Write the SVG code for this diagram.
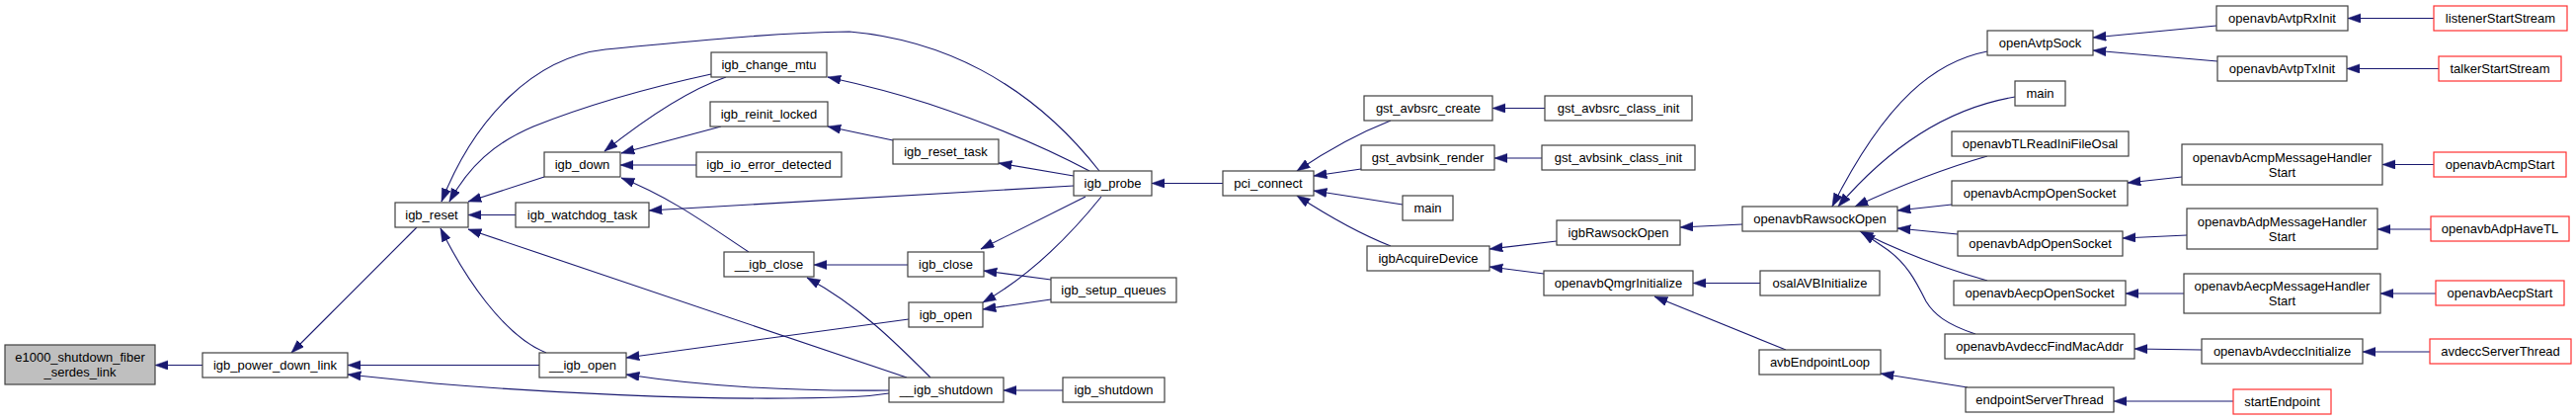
<svg xmlns="http://www.w3.org/2000/svg" width="2608" height="425" viewBox="0 0 2608 425">
<style>
.n rect{fill:#fff;stroke:#404040;stroke-width:1.2}
.n.g rect{fill:#bfbfbf}
.n.r rect{stroke:#ff3030}
.n text{font-family:"Liberation Sans",Helvetica,Arial,sans-serif;font-size:13px;fill:#000;text-anchor:middle}
#edges path{fill:none;stroke:#191970;stroke-width:1.1;marker-end:url(#ah)}
</style>
<defs>
<marker id="ah" markerUnits="userSpaceOnUse" markerWidth="14" markerHeight="10" refX="13.3" refY="4.7" orient="auto">
<path d="M0,0 L13.3,4.7 L0,9.4 z" fill="#191970" stroke="#191970" stroke-width="0.5"/>
</marker>
</defs>
<rect width="2608" height="425" fill="#fff"/>
<g id="edges">
<path d="M205,369.5 L157,369.5"/>
<path d="M422,230 L295,357"/>
<path d="M546,369.5 L352,369.5"/>
<path d="M900,398 C880,401 870,402 800,403 C700,404 560,398 440,388 L352,379"/>
<path d="M900,395 C820,396 720,392 634,379"/>
<path d="M1113,173 C1040,80 950,40 860,32 C780,33 700,42 613,50 C540,58 480,120 447,204"/>
<path d="M1103,173 C1060,150 1000,125 940,105 C900,92 870,85 838,78"/>
<path d="M720,75 C660,88 600,104 540,128 C500,145 475,168 455,204"/>
<path d="M735,78 C700,90 660,115 612,153"/>
<path d="M730,128 L629,155"/>
<path d="M705,167 L628,167"/>
<path d="M758,255 C720,230 680,200 629,180"/>
<path d="M551,179 L474,204"/>
<path d="M522,217.5 L474,217.5"/>
<path d="M918,382 L474,232"/>
<path d="M553,357 C510,340 470,280 446,231"/>
<path d="M904,142 L838,128"/>
<path d="M1087,178 L1011,165"/>
<path d="M1087,188 L657,213"/>
<path d="M919,268 L824,268"/>
<path d="M942,382 C905,345 870,310 817,281"/>
<path d="M1099,199 L993,252"/>
<path d="M1064,283 L996,274"/>
<path d="M1115,199 C1090,230 1050,275 995,306"/>
<path d="M1064,303 L995,313"/>
<path d="M920,323 L634,362"/>
<path d="M1076,395 L1016,395"/>
<path d="M1238,185.5 L1166,185.5"/>
<path d="M1408,122 C1380,133 1350,148 1313,173"/>
<path d="M1378,171 L1330,178"/>
<path d="M1420,207 L1330,193"/>
<path d="M1408,249 C1380,238 1350,222 1313,198"/>
<path d="M1564,109.5 L1511,109.5"/>
<path d="M1561,160 L1513,160"/>
<path d="M1576,244 L1508,252"/>
<path d="M1563,277 L1508,270"/>
<path d="M1764,227 L1701,230"/>
<path d="M1782,286.5 L1714,286.5"/>
<path d="M1808,354 L1675,300"/>
<path d="M1992,392 L1904,378"/>
<path d="M2261,406 L2140,406"/>
<path d="M2012,52 C1960,62 1910,100 1855,209"/>
<path d="M2040,98 C1980,108 1920,140 1861,209"/>
<path d="M2012,158 C1970,170 1930,185 1878,209"/>
<path d="M1976,207 L1921,213"/>
<path d="M1982,237 L1921,231"/>
<path d="M2012,284 C1970,272 1930,258 1883,234"/>
<path d="M2000,338 C1970,328 1958,318 1950,305 C1940,285 1930,265 1907,250 L1885,235"/>
<path d="M2244,26 L2119,38"/>
<path d="M2245,62 L2119,51"/>
<path d="M2464,18.5 L2377,18.5"/>
<path d="M2469,69.5 L2376,69.5"/>
<path d="M2209,179 L2154,185"/>
<path d="M2214,238 L2149,241"/>
<path d="M2211,297 L2152,297"/>
<path d="M2229,354 L2161,353"/>
<path d="M2464,166.5 L2412,166.5"/>
<path d="M2461,232 L2407,232"/>
<path d="M2466,297 L2410,297"/>
<path d="M2460,356 L2392,356"/>
</g>
<g id="n_e1000" class="n g"><rect x="5" y="349" width="152" height="40"/><text x="81" y="366">e1000_shutdown_fiber</text><text x="81" y="381">_serdes_link</text></g>
<g id="n_igb_power_down_link" class="n"><rect x="205" y="357" width="147" height="25"/><text x="278.5" y="374">igb_power_down_link</text></g>
<g id="n_igb_reset" class="n"><rect x="400" y="205" width="74" height="25"/><text x="437" y="222">igb_reset</text></g>
<g id="n_igb_change_mtu" class="n"><rect x="720" y="53" width="117" height="25"/><text x="778.5" y="70">igb_change_mtu</text></g>
<g id="n_igb_reinit_locked" class="n"><rect x="719" y="103" width="119" height="25"/><text x="778.5" y="120">igb_reinit_locked</text></g>
<g id="n_igb_down" class="n"><rect x="551" y="154" width="77" height="25"/><text x="589.5" y="171">igb_down</text></g>
<g id="n_igb_io_error_detected" class="n"><rect x="705" y="154" width="147" height="25"/><text x="778.5" y="171">igb_io_error_detected</text></g>
<g id="n_igb_watchdog_task" class="n"><rect x="522" y="205" width="135" height="25"/><text x="589.5" y="222">igb_watchdog_task</text></g>
<g id="n___igb_close" class="n"><rect x="733" y="255" width="91" height="25"/><text x="778.5" y="272">__igb_close</text></g>
<g id="n___igb_open" class="n"><rect x="546" y="357" width="88" height="25"/><text x="590" y="374">__igb_open</text></g>
<g id="n_igb_reset_task" class="n"><rect x="904" y="141" width="107" height="25"/><text x="957.5" y="158">igb_reset_task</text></g>
<g id="n_igb_probe" class="n"><rect x="1087" y="173" width="79" height="25"/><text x="1126.5" y="190">igb_probe</text></g>
<g id="n_pci_connect" class="n"><rect x="1238" y="173" width="92" height="25"/><text x="1284" y="190">pci_connect</text></g>
<g id="n_igb_close" class="n"><rect x="919" y="255" width="77" height="25"/><text x="957.5" y="272">igb_close</text></g>
<g id="n_igb_setup_queues" class="n"><rect x="1064" y="281" width="127" height="25"/><text x="1127.5" y="298">igb_setup_queues</text></g>
<g id="n_igb_open" class="n"><rect x="920" y="306" width="75" height="25"/><text x="957.5" y="323">igb_open</text></g>
<g id="n___igb_shutdown" class="n"><rect x="900" y="382" width="116" height="25"/><text x="958" y="399">__igb_shutdown</text></g>
<g id="n_igb_shutdown" class="n"><rect x="1076" y="382" width="103" height="25"/><text x="1127.5" y="399">igb_shutdown</text></g>
<g id="n_gst_avbsrc_create" class="n"><rect x="1381" y="97" width="130" height="25"/><text x="1446" y="114">gst_avbsrc_create</text></g>
<g id="n_gst_avbsrc_class_init" class="n"><rect x="1564" y="97" width="149" height="25"/><text x="1638.5" y="114">gst_avbsrc_class_init</text></g>
<g id="n_gst_avbsink_render" class="n"><rect x="1378" y="147" width="135" height="25"/><text x="1445.5" y="164">gst_avbsink_render</text></g>
<g id="n_gst_avbsink_class_init" class="n"><rect x="1561" y="147" width="155" height="25"/><text x="1638.5" y="164">gst_avbsink_class_init</text></g>
<g id="n_main1" class="n"><rect x="1420" y="198" width="51" height="25"/><text x="1445.5" y="215">main</text></g>
<g id="n_igbAcquireDevice" class="n"><rect x="1384" y="249" width="124" height="25"/><text x="1446" y="266">igbAcquireDevice</text></g>
<g id="n_igbRawsockOpen" class="n"><rect x="1576" y="223" width="125" height="25"/><text x="1638.5" y="240">igbRawsockOpen</text></g>
<g id="n_openavbQmgrInitialize" class="n"><rect x="1563" y="274" width="151" height="25"/><text x="1638.5" y="291">openavbQmgrInitialize</text></g>
<g id="n_openAvtpSock" class="n"><rect x="2012" y="31" width="107" height="25"/><text x="2065.5" y="48">openAvtpSock</text></g>
<g id="n_main2" class="n"><rect x="2040" y="82" width="51" height="25"/><text x="2065.5" y="99">main</text></g>
<g id="n_openavbTLReadIniFileOsal" class="n"><rect x="1976" y="133" width="179" height="25"/><text x="2065.5" y="150">openavbTLReadIniFileOsal</text></g>
<g id="n_openavbAcmpOpenSocket" class="n"><rect x="1976" y="183" width="178" height="25"/><text x="2065" y="200">openavbAcmpOpenSocket</text></g>
<g id="n_openavbRawsockOpen" class="n"><rect x="1764" y="209" width="157" height="25"/><text x="1842.5" y="226">openavbRawsockOpen</text></g>
<g id="n_openavbAdpOpenSocket" class="n"><rect x="1982" y="234" width="167" height="25"/><text x="2065.5" y="251">openavbAdpOpenSocket</text></g>
<g id="n_osalAVBInitialize" class="n"><rect x="1782" y="274" width="121" height="25"/><text x="1842.5" y="291">osalAVBInitialize</text></g>
<g id="n_openavbAecpOpenSocket" class="n"><rect x="1978" y="284" width="174" height="25"/><text x="2065" y="301">openavbAecpOpenSocket</text></g>
<g id="n_openavbAvdeccFindMacAddr" class="n"><rect x="1969" y="338" width="192" height="25"/><text x="2065" y="355">openavbAvdeccFindMacAddr</text></g>
<g id="n_avbEndpointLoop" class="n"><rect x="1781" y="354" width="123" height="25"/><text x="1842.5" y="371">avbEndpointLoop</text></g>
<g id="n_endpointServerThread" class="n"><rect x="1990" y="392" width="150" height="25"/><text x="2065" y="409">endpointServerThread</text></g>
<g id="n_openavbAvtpRxInit" class="n"><rect x="2244" y="6" width="133" height="25"/><text x="2310.5" y="23">openavbAvtpRxInit</text></g>
<g id="n_listenerStartStream" class="n r"><rect x="2464" y="6" width="135" height="25"/><text x="2531.5" y="23">listenerStartStream</text></g>
<g id="n_openavbAvtpTxInit" class="n"><rect x="2245" y="57" width="131" height="25"/><text x="2310.5" y="74">openavbAvtpTxInit</text></g>
<g id="n_talkerStartStream" class="n r"><rect x="2469" y="57" width="124" height="25"/><text x="2531" y="74">talkerStartStream</text></g>
<g id="n_openavbAcmpMessageHandlerStart" class="n"><rect x="2209" y="146" width="203" height="41"/><text x="2310.5" y="163.5">openavbAcmpMessageHandler</text><text x="2310.5" y="178.5">Start</text></g>
<g id="n_openavbAcmpStart" class="n r"><rect x="2464" y="154" width="134" height="25"/><text x="2531" y="171">openavbAcmpStart</text></g>
<g id="n_openavbAdpMessageHandlerStart" class="n"><rect x="2214" y="211" width="193" height="41"/><text x="2310.5" y="228.5">openavbAdpMessageHandler</text><text x="2310.5" y="243.5">Start</text></g>
<g id="n_openavbAdpHaveTL" class="n r"><rect x="2461" y="219" width="140" height="25"/><text x="2531" y="236">openavbAdpHaveTL</text></g>
<g id="n_openavbAecpMessageHandlerStart" class="n"><rect x="2211" y="277" width="199" height="40"/><text x="2310.5" y="294">openavbAecpMessageHandler</text><text x="2310.5" y="309">Start</text></g>
<g id="n_openavbAecpStart" class="n r"><rect x="2466" y="284" width="130" height="25"/><text x="2531" y="301">openavbAecpStart</text></g>
<g id="n_openavbAvdeccInitialize" class="n"><rect x="2229" y="343" width="163" height="25"/><text x="2310.5" y="360">openavbAvdeccInitialize</text></g>
<g id="n_avdeccServerThread" class="n r"><rect x="2460" y="343" width="143" height="25"/><text x="2531.5" y="360">avdeccServerThread</text></g>
<g id="n_startEndpoint" class="n r"><rect x="2261" y="394" width="99" height="25"/><text x="2310.5" y="411">startEndpoint</text></g>
</svg>
